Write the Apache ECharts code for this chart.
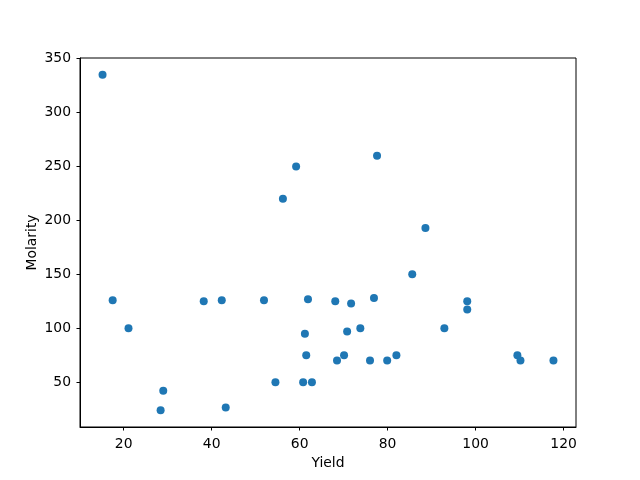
<!DOCTYPE html>
<html>
<head>
<meta charset="utf-8">
<script src="https://cdn.jsdelivr.net/npm/echarts@6/dist/echarts.min.js"></script>
<style>html,body{margin:0;padding:0;background:#fff}#c{width:640px;height:480px}</style>
</head>
<body>
<div id="c"></div>
<script>
const yieldVals = [15.2, 59.2, 56.2, 77.6, 88.6, 17.5, 21.1, 29.0, 28.4, 38.2, 42.3, 43.2, 51.9, 54.5, 61.9, 61.2, 61.5, 60.8, 62.8,
  85.6, 68.1, 71.7, 76.9, 70.8, 73.8, 68.5, 70.1, 76.0, 79.9, 82.0, 92.9, 98.1, 98.1, 109.5, 110.2, 117.7];
const molarityVals = [335, 250, 220, 260, 193, 126, 100, 42, 24, 125, 126, 26.5, 126, 50, 127, 95, 75, 50, 50,
  150, 125, 123, 128, 97, 100, 70, 75, 70, 70, 75, 100, 125, 117.5, 75, 70, 70];
const xTicks = [20, 40, 60, 80, 100, 120];
const yTicks = [50, 100, 150, 200, 250, 300, 350];

const points = yieldVals.map((x, i) => [x, molarityVals[i]]);
const xMinD = Math.min(...yieldVals), xMaxD = Math.max(...yieldVals);
const yMinD = Math.min(...molarityVals), yMaxD = Math.max(...molarityVals);
const xm = (xMaxD - xMinD) * 0.05, ym = (yMaxD - yMinD) * 0.05;

const font = 'DejaVu Sans';
const fs = 13.9;
const chart = echarts.init(document.getElementById('c'), null, {renderer: 'canvas'});
chart.setOption({
  animation: false,
  backgroundColor: '#fff',
  grid: {left: 80, right: 64, top: 58, bottom: 53, show: true, borderColor: '#000', borderWidth: 1, backgroundColor: 'transparent'},
  xAxis: {
    type: 'value', min: xMinD - xm, max: xMaxD + xm,
    name: 'Yield', nameLocation: 'middle', nameGap: 29, nameMoveOverlap: false,
    nameTextStyle: {fontFamily: font, fontSize: fs, color: '#000'},
    axisLine: {show: true, onZero: false, lineStyle: {color: '#000', width: 1}},
    axisTick: {show: true, length: 3.5, lineStyle: {color: '#000'}, customValues: xTicks},
    axisLabel: {fontFamily: font, fontSize: fs, color: '#000', margin: 10, customValues: xTicks},
    splitLine: {show: false}
  },
  yAxis: {
    type: 'value', min: yMinD - ym, max: yMaxD + ym,
    name: 'Molarity', nameLocation: 'middle', nameGap: 41, nameRotate: 90, nameMoveOverlap: false,
    nameTextStyle: {fontFamily: font, fontSize: fs, color: '#000'},
    axisLine: {show: true, onZero: false, lineStyle: {color: '#000', width: 1}},
    axisTick: {show: true, length: 3.5, lineStyle: {color: '#000'}, customValues: yTicks},
    axisLabel: {fontFamily: font, fontSize: fs, color: '#000', margin: 9, customValues: yTicks},
    splitLine: {show: false}
  },
  series: [{
    type: 'scatter',
    data: points,
    symbolSize: 8,
    itemStyle: {color: '#1f77b4', opacity: 1}
  }]
});
</script>
</body>
</html>
